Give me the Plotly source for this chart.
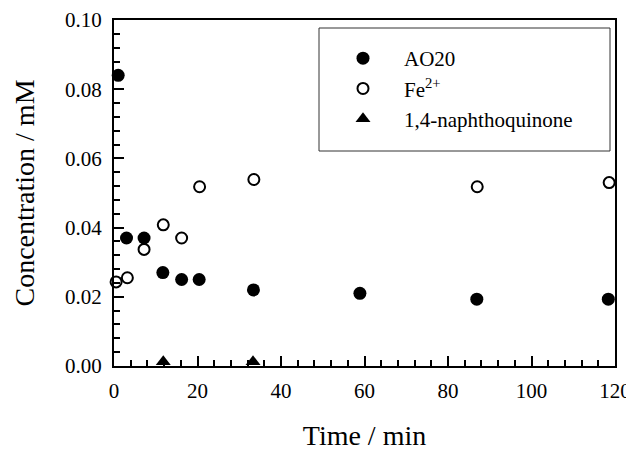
import plotly.graph_objects as go

# ---- data ----
ao20_t = [1, 3, 7.2, 11.7, 16.2, 20.4, 33.4, 58.9, 86.9, 118.4]
ao20_c = [0.084, 0.037, 0.037, 0.027, 0.025, 0.025, 0.022, 0.021, 0.0193, 0.0193]

fe_t = [0.5, 3.2, 7.2, 11.8, 16.2, 20.5, 33.5, 87.0, 118.6]
fe_c = [0.0243, 0.0255, 0.0337, 0.0408, 0.037, 0.0518, 0.0539, 0.0518, 0.053]

nq_t = [11.8, 33.3]
nq_c = [0.0012, 0.0012]

x_range = [0, 120]
y_range = [0.0, 0.10]

# page offset introduced by the default body margin of the html page
OFF = 8
PAGE_W, PAGE_H = 634, 451
PLOT_L, PLOT_R, PLOT_T, PLOT_B = 114, 615, 20, 366   # page pixel positions of the plot frame

W, H = PAGE_W - OFF, PAGE_H - OFF
L, R, T, B = PLOT_L - OFF, PAGE_W - PLOT_R, PLOT_T - OFF, PAGE_H - PLOT_B
FONT = "Liberation Serif, Times New Roman, serif"

fig = go.Figure()
fig.add_trace(go.Scatter(x=ao20_t, y=ao20_c, mode="markers", name="AO20",
                         marker=dict(symbol="circle", size=13, color="black"),
                         cliponaxis=False))
fig.add_trace(go.Scatter(x=fe_t, y=fe_c, mode="markers", name="Fe<sup>2+</sup>",
                         marker=dict(symbol="circle-open", size=11, color="black",
                                     line=dict(width=2, color="black")),
                         cliponaxis=False))
fig.add_trace(go.Scatter(x=nq_t, y=nq_c, mode="markers", name="1,4-naphthoquinone",
                         marker=dict(symbol="triangle-up", size=13, color="black"),
                         cliponaxis=False))

pw = PLOT_R - PLOT_L
ph = PLOT_B - PLOT_T
def px(xp):
    return (xp - PLOT_L) / pw
def py(yp):
    return 1 - (yp - PLOT_T) / ph

# legend frame
fig.add_shape(type="rect", xref="paper", yref="paper",
              x0=px(319), x1=px(610), y0=py(151), y1=py(28),
              line=dict(color="#333", width=1), fillcolor="white", layer="below")

axis_common = dict(
    showgrid=False, zeroline=False, showline=True, linecolor="black", linewidth=2,
    mirror=True, ticks="inside", ticklen=10, tickwidth=2, tickcolor="black",
    automargin=False, tickmode="linear",
    tickfont=dict(family=FONT, size=21, color="black"),
)

fig.update_xaxes(range=x_range, tick0=0, dtick=20,
                 minor=dict(ticks="inside", ticklen=6, tickwidth=2, dtick=4, tick0=0,
                            tickcolor="black", showgrid=False),
                 ticklabelstandoff=5,
                 title=dict(text="Time / min", font=dict(family=FONT, size=28, color="black"),
                            standoff=26),
                 **axis_common)
fig.update_yaxes(range=y_range, tick0=0, dtick=0.02, tickformat=".2f",
                 minor=dict(ticks="inside", ticklen=6, tickwidth=2, dtick=0.004, tick0=0,
                            tickcolor="black", showgrid=False),
                 ticklabelstandoff=6,
                 title=dict(text="Concentration / mM", font=dict(family=FONT, size=28, color="black"),
                            standoff=22),
                 **axis_common)

fig.update_layout(
    width=W, height=H,
    margin=dict(l=L, r=R, t=T, b=B, autoexpand=False),
    paper_bgcolor="white", plot_bgcolor="white",
    showlegend=True,
    legend=dict(x=px(322), y=py(38), xanchor="left", yanchor="top",
                bgcolor="rgba(0,0,0,0)", borderwidth=0,
                itemwidth=72, tracegroupgap=0,
                font=dict(family=FONT, size=21, color="black")),
)

fig.write_html("out.html")
